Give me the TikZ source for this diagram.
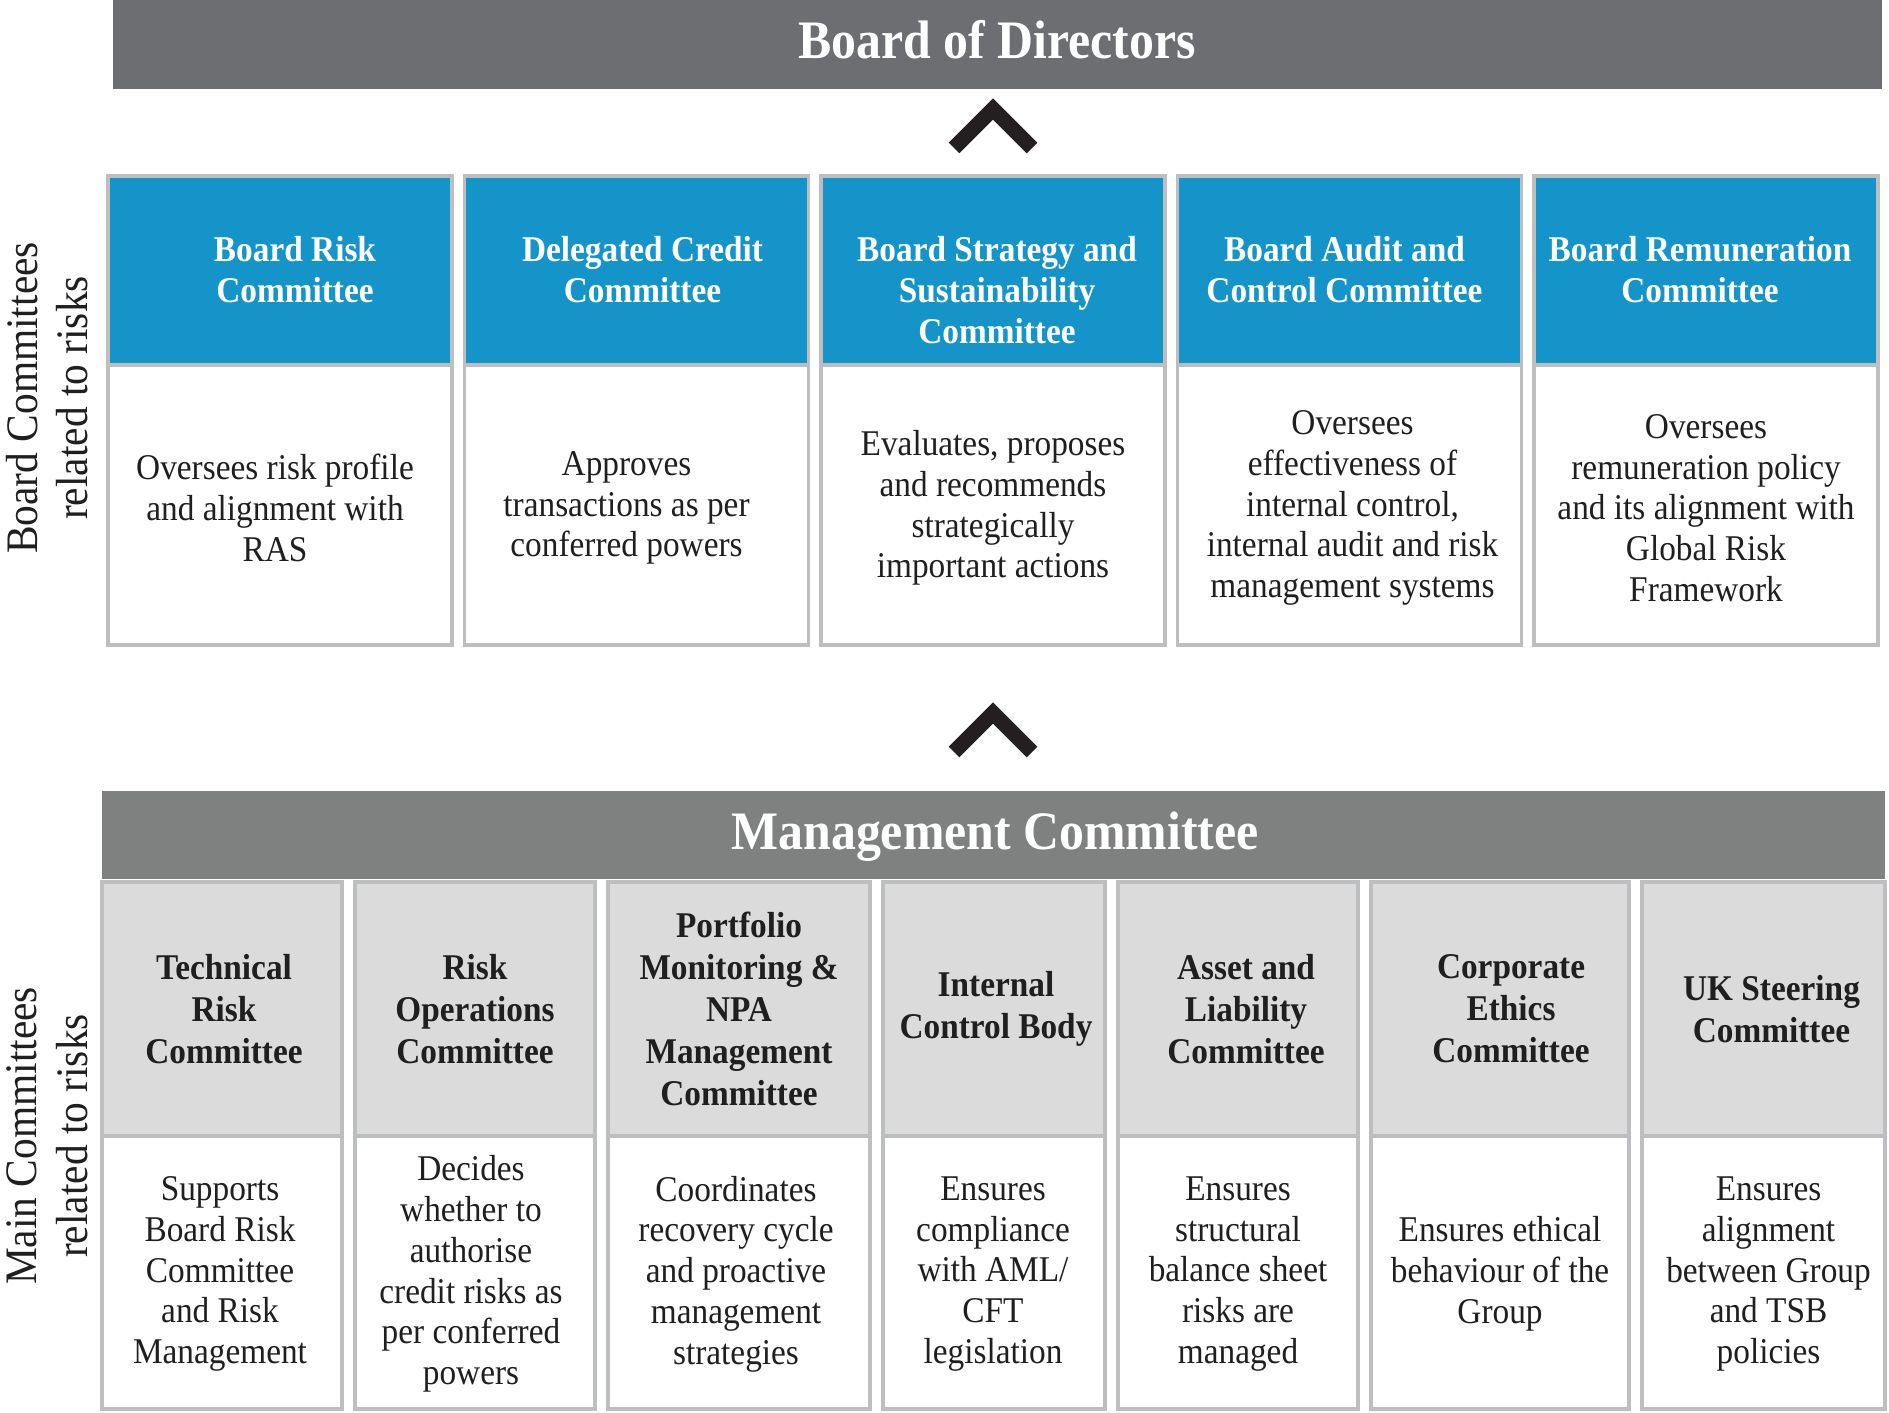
\documentclass[tikz,border=0pt]{standalone}
\usepackage{fontspec}
\setmainfont{Liberation Serif}[FakeStretch=0.92]
\definecolor{topbar}{HTML}{6D6E71}
\definecolor{mgbar}{HTML}{7F8180}
\definecolor{bblue}{HTML}{1594C9}
\definecolor{hgray}{HTML}{DCDBDB}
\definecolor{bord}{HTML}{BCBEC0}
\definecolor{chev}{HTML}{231F20}
\tikzset{
  bodybox/.style={fill=white, draw=bord, line width=1.1pt},
  bluebox/.style={fill=bblue, draw=bord, line width=1.1pt},
  graybox/.style={fill=hgray, draw=bord, line width=1.1pt},
  titletxt/.style={font=\fontsize{15.4}{18}\selectfont\bfseries, text=white, inner sep=0},
  bhtxt/.style={font=\fontsize{10.3}{11.6}\selectfont\bfseries, text=white, align=center, inner sep=0},
  ghtxt/.style={font=\fontsize{10.3}{11.9}\selectfont\bfseries, text=black!88, align=center, inner sep=0},
  btxt/.style={font=\fontsize{10.3}{11.6}\selectfont, text=black!88, align=center, inner sep=0},
  sidetxt/.style={font=\fontsize{12.8}{14.4}\selectfont, text=black!88, align=center, inner sep=0, rotate=90},
  chevron/.style={draw=chev, line width=0.15cm, line join=miter}
}
% #1 x-left, #2 name, #3 header dx, #4 body dx, #5 header, #6 body
\newcommand{\bcol}[6]{%
  \draw[bodybox] (#1,365) rectangle ++(344,280);
  \draw[bluebox] (#1,176) rectangle ++(344,189);
  \node[bhtxt, anchor=north] (#2h) at ({#1+172+#3},236) {#5};
  \node[btxt] (#2b) at ({#1+172+#4},508) {#6};
}
% #1 x-left, #2 x-right, #3 name, #4 header dx, #5 body dx, #6 header, #7 body
\newcommand{\gcol}[7]{%
  \draw[bodybox] (#1,1136) rectangle (#2,1409);
  \draw[graybox] (#1,882) rectangle (#2,1136);
  \node[ghtxt] (#3h) at ({(#1+#2)/2+#4},1009) {#6};
  \node[btxt] (#3b) at ({(#1+#2)/2+#5},1274) {#7};
}
\begin{document}
\begin{tikzpicture}[x=0.01cm, y=-0.01cm]
\useasboundingbox (0,0) rectangle (1889,1412);
\fill[white] (0,0) rectangle (1889,1412);

% Board of Directors
\fill[topbar] (113,0) rectangle (1882,89);
\node[titletxt] (bod) at (997,40) {Board of Directors};

% chevron 1
\draw[chevron] (954,148) -- (993,109) -- (1032,148);

% side labels
\node[sidetxt] (lblboard) at (47,398) {Board Committees\\related to risks};
\node[sidetxt] (lblmain) at (47,1136) {Main Committees\\related to risks};

% Board committees
\bcol{108}{bra}{15}{-5}{Board Risk\\Committee}{Oversees risk profile\\and alignment with\\RAS}
\bcol{464.5}{dcc}{6}{-10}{Delegated Credit\\Committee}{Approves\\transactions as per\\conferred powers}
\bcol{821}{bss}{4}{0}{Board Strategy and\\Sustainability\\Committee}{Evaluates, proposes\\and recommends\\strategically\\important actions}
\bcol{1177.5}{bac}{-5}{3}{Board Audit and\\Control Committee}{Oversees\\effectiveness of\\internal control,\\internal audit and risk\\management systems}
\bcol{1534}{brc}{-6}{0}{Board Remuneration\\Committee}{Oversees\\remuneration policy\\and its alignment with\\Global Risk\\Framework}

% chevron 2
\draw[chevron] (954,752) -- (993,713) -- (1032,752);

% Management Committee
\fill[mgbar] (102,791) rectangle (1885,879);
\node[titletxt] (mgc) at (995,837) {Management Committee};

\gcol{102}{342}{trc}{2}{-2}{Technical\\Risk\\Committee}{Supports\\Board Risk\\Committee\\and Risk\\Management}
\gcol{355}{595}{roc}{0}{-4}{Risk\\Operations\\Committee}{Decides\\whether to\\authorise\\credit risks as\\per conferred\\powers}
\gcol{608}{870}{pmc}{0}{-3}{Portfolio\\Monitoring \&\\NPA\\Management\\Committee}{Coordinates\\recovery cycle\\and proactive\\management\\strategies}
\gcol{883}{1105}{icb}{2}{-1}{Internal\\Control Body}{Ensures\\compliance\\with AML/\\CFT\\legislation}
\gcol{1118}{1358}{alc}{8}{0}{Asset and\\Liability\\Committee}{Ensures\\structural\\balance sheet\\risks are\\managed}
\gcol{1371}{1629}{cec}{11}{0}{Corporate\\Ethics\\Committee}{Ensures ethical\\behaviour of the\\Group}
\gcol{1642}{1885}{uks}{8}{5}{UK Steering\\Committee}{Ensures\\alignment\\between Group\\and TSB\\policies}
\end{tikzpicture}
\end{document}
